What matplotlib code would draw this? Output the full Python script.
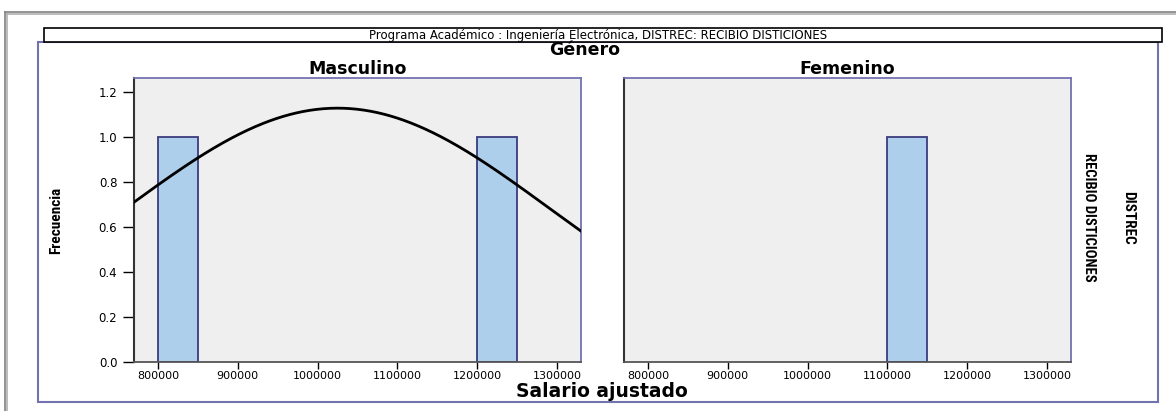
import numpy as np
import matplotlib
matplotlib.use("Agg")
import matplotlib.pyplot as plt
from matplotlib.patches import Rectangle
from matplotlib.lines import Line2D
from matplotlib import font_manager

# ---------------- data ----------------
panel_titles = ["Masculino", "Femenino"]
bin_width = 50000
masc_bin_starts = [800000, 1200000]
masc_counts = [1, 1]
fem_bin_starts = [1100000]
fem_counts = [1]
# fitted normal curve drawn in the Masculino panel
curve_mean = 1025000
curve_sd = 265000
curve_peak = 1.128
x_ticks = [800000, 900000, 1000000, 1100000, 1200000, 1300000]
y_ticks = [0.0, 0.2, 0.4, 0.6, 0.8, 1.0, 1.2]
y_tick_labels = ["0.0", "0.2", "0.4", "0.6", "0.8", "1.0", "1.2"]
title_text = "Programa Académico : Ingeniería Electrónica, DISTREC: RECIBIO DISTICIONES"
facet_col_title = "Género"
row_var = "DISTREC"
row_value = "RECIBIO DISTICIONES"
x_label = "Salario ajustado"
y_label = "Frecuencia"

# ---------------- styling ----------------
W, H = 1176, 411
BAR_FILL = "#aecfec"
BAR_EDGE = "#3b3b7e"
PANEL_BG = "#efefef"
FRAME = "#7373b0"

names = {f.name for f in font_manager.fontManager.ttflist}
narrow_family = None
for cand in ["Liberation Sans Narrow", "DejaVu Sans Condensed", "Roboto Condensed",
             "Open Sans Condensed"]:
    if cand in names:
        narrow_family = cand
        break
narrow_kw = {"family": [narrow_family, "DejaVu Sans"]} if narrow_family else \
    {"family": ["DejaVu Sans"], "fontstretch": "condensed"}

fig = plt.figure(figsize=(W / 100, H / 100), dpi=100)
fig.patch.set_facecolor("white")


def fx(px):
    return px / W


def fy(py):
    return 1 - py / H


# outer gray frame (double line)
for off, c in [(0, "#808080"), (2, "#b0b0b0")]:
    fig.add_artist(Line2D([fx(5 + off), fx(5 + off)], [fy(12 + off), 0], color=c, lw=1.2))
    fig.add_artist(Line2D([fx(5 + off), 1], [fy(12 + off), fy(12 + off)], color=c, lw=1.2))

# blue frame around facets
fig.add_artist(Rectangle((fx(38), fy(402)), fx(1158) - fx(38), fy(42) - fy(402),
                         transform=fig.transFigure, fill=False, edgecolor=FRAME, lw=1.5))
# title box
fig.add_artist(Rectangle((fx(44), fy(42)), fx(1162) - fx(44), fy(28) - fy(42),
                         transform=fig.transFigure, facecolor="white", edgecolor="black", lw=1.2))
fig.text(fx(598), fy(35.5), title_text, ha="center", va="center", fontsize=8.5)

fig.text(fx(585), fy(50), facet_col_title, ha="center", va="center", fontsize=12.5, fontweight="bold")
fig.text(fx(602), fy(391), x_label, ha="center", va="center", fontsize=13.5, fontweight="bold")
fig.text(fx(56), fy(220), y_label, ha="center", va="center", rotation=90, fontsize=11,
         fontweight="bold", **narrow_kw)
fig.text(fx(1128), fy(218), row_var, ha="center", va="center", rotation=-90, fontsize=11,
         fontweight="bold", **narrow_kw)
fig.text(fx(1089), fy(217), row_value, ha="center", va="center", rotation=-90, fontsize=10.5,
         fontweight="bold", **narrow_kw)

panels = [
    (134, 581, masc_bin_starts, masc_counts, True),
    (624, 1071, fem_bin_starts, fem_counts, False),
]
top_px, bot_px = 78, 362
xlim = (770000, 1330000)
ylim = (0.0, 1.262)

for i, (l, r, starts, counts, first) in enumerate(panels):
    ax = fig.add_axes([fx(l), fy(bot_px), fx(r) - fx(l), fy(top_px) - fy(bot_px)])
    ax.set_facecolor(PANEL_BG)
    ax.bar(starts, counts, width=bin_width, align="edge", color=BAR_FILL,
           edgecolor=BAR_EDGE, linewidth=1.3, zorder=2)
    if first:
        xs = np.linspace(xlim[0], xlim[1], 400)
        ys = curve_peak * np.exp(-0.5 * ((xs - curve_mean) / curve_sd) ** 2)
        ax.plot(xs, ys, color="black", lw=2.0, zorder=3)
    ax.set_xlim(*xlim)
    ax.set_ylim(*ylim)
    ax.set_xticks(x_ticks)
    ax.set_xticklabels([str(t) for t in x_ticks], fontsize=8)
    ax.tick_params(axis="x", length=5, width=1, pad=1.5, colors="black")
    ax.set_yticks(y_ticks)
    if first:
        ax.set_yticklabels(y_tick_labels, fontsize=8.5)
        ax.tick_params(axis="y", length=8, width=1, pad=4)
    else:
        ax.tick_params(axis="y", length=0, labelleft=False)
    ax.set_title(panel_titles[i], fontsize=12.5, fontweight="bold", pad=0)
    for side in ["top", "right"]:
        ax.spines[side].set_color(FRAME)
        ax.spines[side].set_linewidth(1.3)
    ax.spines["left"].set_color("#333333")
    ax.spines["left"].set_linewidth(1.5)
    ax.spines["bottom"].set_color("#555555")
    ax.spines["bottom"].set_linewidth(1.3)

fig.savefig("out.png", dpi=100)
